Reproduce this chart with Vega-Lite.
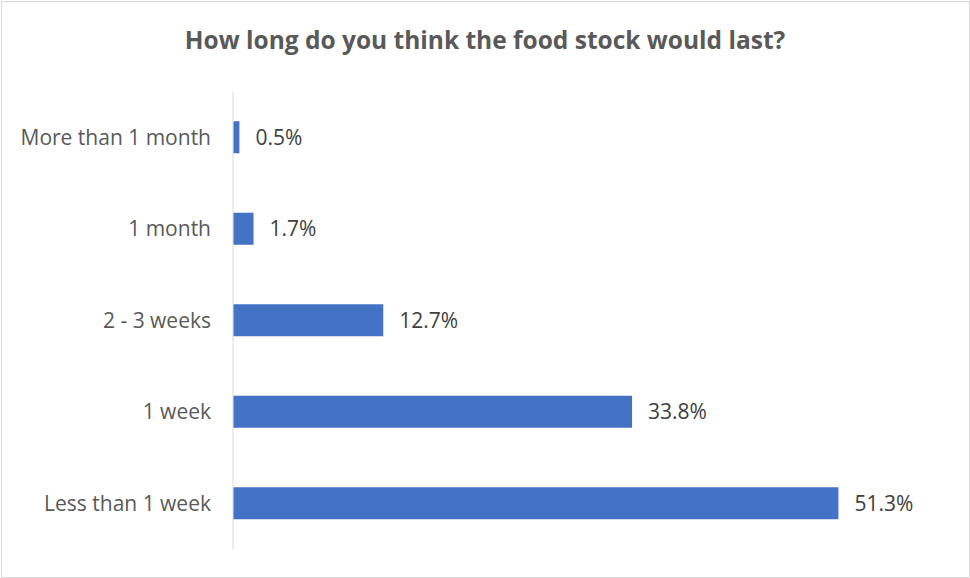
{
  "$schema": "https://vega.github.io/schema/vega-lite/v6.json",
  "width": 968,
  "height": 576,
  "padding": 1,
  "autosize": {"type": "none"},
  "background": "white",
  "view": {"stroke": "#D9D9D9", "strokeWidth": 1},
  "title": {
    "text": "How long do you think the food stock would last?",
    "anchor": "middle",
    "frame": "group",
    "font": "Open Sans",
    "fontSize": 24.5,
    "fontWeight": "bold",
    "color": "#595959",
    "offset": 0,
    "baseline": "alphabetic",
    "dy": 72
  },
  "data": {
    "values": [
      {"answer": "More than 1 month", "share": 0.005},
      {"answer": "1 month", "share": 0.017},
      {"answer": "2 - 3 weeks", "share": 0.127},
      {"answer": "1 week", "share": 0.338},
      {"answer": "Less than 1 week", "share": 0.513}
    ]
  },
  "encoding": {
    "y": {
      "field": "answer",
      "type": "nominal",
      "sort": null,
      "scale": {"range": [90.5, 548], "paddingInner": 0.65, "paddingOuter": 0.325},
      "axis": {
        "title": null,
        "orient": "left",
        "offset": -231.5,
        "domain": true,
        "domainColor": "#D9D9D9",
        "domainWidth": 1,
        "ticks": false,
        "tickSize": 0,
        "grid": false,
        "labelPadding": 22,
        "labelOffset": 1.5,
        "labelFont": "Open Sans",
        "labelFontSize": 21,
        "labelColor": "#595959",
        "labelLimit": 0
      }
    },
    "x": {
      "field": "share",
      "type": "quantitative",
      "scale": {"domain": [0, 0.6], "range": [232.5, 940]},
      "axis": null
    }
  },
  "layer": [
    {"mark": {"type": "bar", "color": "#4472C4"}},
    {
      "mark": {
        "type": "text",
        "align": "left",
        "baseline": "middle",
        "dx": 16,
        "dy": 1.5,
        "font": "Open Sans",
        "fontSize": 21,
        "color": "#404040"
      },
      "encoding": {"text": {"field": "share", "type": "quantitative", "format": ".1%"}}
    }
  ]
}
